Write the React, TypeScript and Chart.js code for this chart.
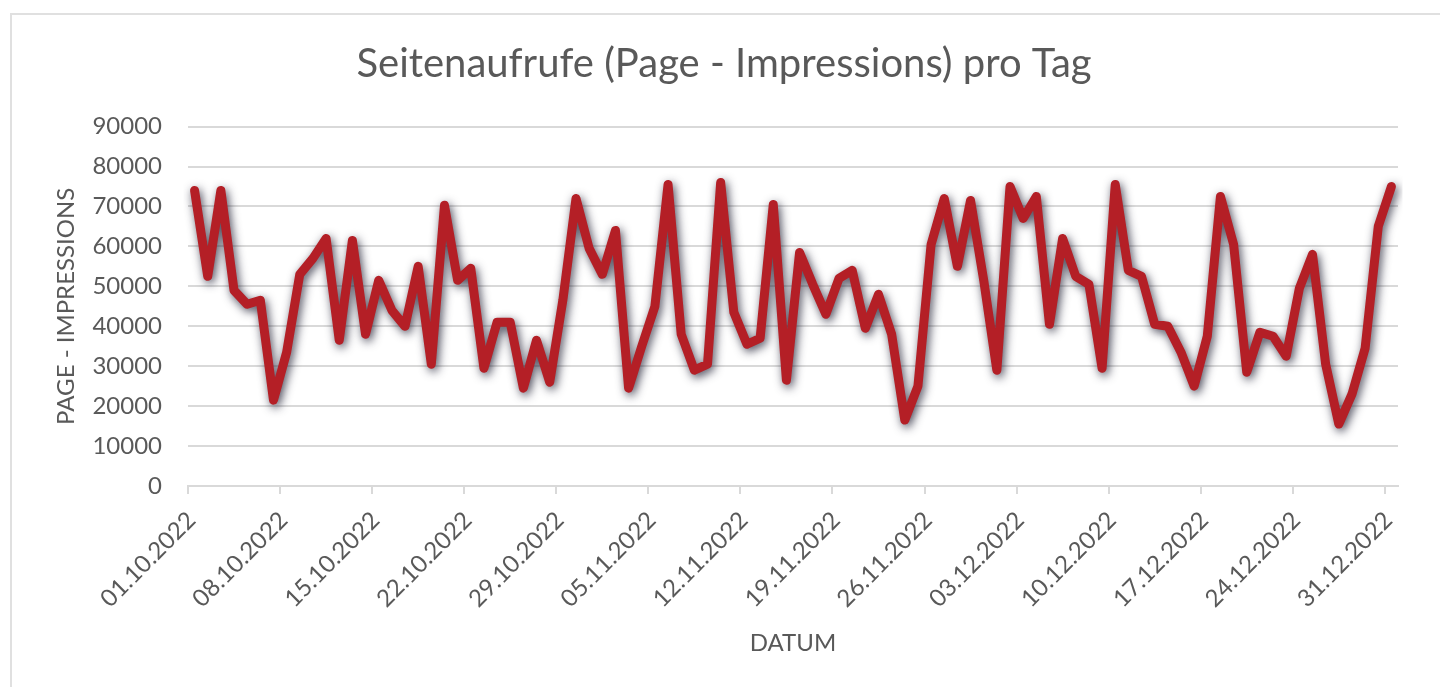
import React, { useEffect, useRef } from "react";
import { Chart, registerables } from "chart.js";

Chart.register(...registerables);

const dateLabels: string[] = [
  "01.10.2022", "02.10.2022", "03.10.2022", "04.10.2022", "05.10.2022", "06.10.2022", "07.10.2022",
  "08.10.2022", "09.10.2022", "10.10.2022", "11.10.2022", "12.10.2022", "13.10.2022", "14.10.2022",
  "15.10.2022", "16.10.2022", "17.10.2022", "18.10.2022", "19.10.2022", "20.10.2022", "21.10.2022",
  "22.10.2022", "23.10.2022", "24.10.2022", "25.10.2022", "26.10.2022", "27.10.2022", "28.10.2022",
  "29.10.2022", "30.10.2022", "31.10.2022", "01.11.2022", "02.11.2022", "03.11.2022", "04.11.2022",
  "05.11.2022", "06.11.2022", "07.11.2022", "08.11.2022", "09.11.2022", "10.11.2022", "11.11.2022",
  "12.11.2022", "13.11.2022", "14.11.2022", "15.11.2022", "16.11.2022", "17.11.2022", "18.11.2022",
  "19.11.2022", "20.11.2022", "21.11.2022", "22.11.2022", "23.11.2022", "24.11.2022", "25.11.2022",
  "26.11.2022", "27.11.2022", "28.11.2022", "29.11.2022", "30.11.2022", "01.12.2022", "02.12.2022",
  "03.12.2022", "04.12.2022", "05.12.2022", "06.12.2022", "07.12.2022", "08.12.2022", "09.12.2022",
  "10.12.2022", "11.12.2022", "12.12.2022", "13.12.2022", "14.12.2022", "15.12.2022", "16.12.2022",
  "17.12.2022", "18.12.2022", "19.12.2022", "20.12.2022", "21.12.2022", "22.12.2022", "23.12.2022",
  "24.12.2022", "25.12.2022", "26.12.2022", "27.12.2022", "28.12.2022", "29.12.2022", "30.12.2022",
  "31.12.2022",
];

const pageImpressions: number[] = [
  74000, 52500, 74000, 49000, 45500, 46500, 21500, 33500, 53000, 57000,
  62000, 36500, 61500, 38000, 51500, 44000, 40000, 55000, 30500, 70300,
  51500, 54500, 29500, 41000, 41000, 24500, 36500, 26000, 46500, 72000,
  59500, 53000, 64000, 24500, 35000, 45000, 75500, 38000, 29000, 30500,
  76000, 43500, 35500, 37000, 70500, 26500, 58500, 50500, 43000, 52000,
  54000, 39500, 48000, 38000, 16500, 25000, 60500, 72000, 55000, 71500,
  51500, 29000, 75000, 67000, 72500, 40500, 62000, 52500, 50500, 29500,
  75500, 54000, 52500, 40500, 40000, 33500, 25000, 37500, 72500, 60500,
  28500, 38500, 37500, 32500, 49500, 58000, 30500, 15500, 23000, 34500,
  65000, 75000,
];

const chartTitle = "Seitenaufrufe (Page - Impressions) pro Tag";
const yAxisTitle = "PAGE - IMPRESSIONS";
const xAxisTitle = "DATUM";
const labelEvery = 7;

const FONT = "Lato, 'Open Sans', sans-serif";
const TEXT = "#595959";
const GRID = "#d9d9d9";

const shadowPlugin = {
  id: "lineShadow",
  beforeDatasetsDraw(chart: any) {
    const ctx = chart.ctx;
    ctx.save();
    ctx.shadowColor = "rgba(30,30,50,0.8)";
    ctx.shadowBlur = 10;
    ctx.shadowOffsetX = 2;
    ctx.shadowOffsetY = 3;
  },
  afterDatasetsDraw(chart: any) {
    chart.ctx.restore();
  },
};

export default function App() {
  const canvasRef = useRef<HTMLCanvasElement | null>(null);

  useEffect(() => {
    if (!canvasRef.current) return;
    const chart = new Chart(canvasRef.current, {
      type: "line",
      data: {
        labels: dateLabels,
        datasets: [
          {
            label: yAxisTitle,
            data: pageImpressions,
            borderColor: "#B41F26",
            borderWidth: 9,
            borderJoinStyle: "round",
            borderCapStyle: "round",
            pointRadius: 0,
            tension: 0,
            fill: false,
          },
        ],
      },
      plugins: [shadowPlugin],
      options: {
        animation: false,
        responsive: false,
        devicePixelRatio: 1,
        layout: { padding: { left: 50, right: 42, top: 0, bottom: 0 } },
        plugins: {
          legend: { display: false },
          tooltip: { enabled: false },
          title: {
            display: true,
            text: chartTitle,
            color: TEXT,
            font: { family: FONT, size: 40, weight: "normal" },
            padding: { top: 40, bottom: 38.6 },
          },
        },
        scales: {
          x: {
            type: "category",
            offset: true,
            afterFit: (scale: any) => {
              scale.height = 201;
            },
            grid: {
              offset: true,
              drawOnChartArea: false,
              drawTicks: true,
              tickLength: 8,
              lineWidth: 2,
              tickColor: (ctx: any) => (ctx.index % labelEvery === 0 ? GRID : "rgba(0,0,0,0)"),
              color: "rgba(0,0,0,0)",
            },
            border: { display: true, color: GRID, width: 2 },
            ticks: {
              autoSkip: false,
              minRotation: 45,
              maxRotation: 45,
              labelOffset: -3,
              padding: 12,
              color: TEXT,
              font: { family: FONT, size: 24 },
              callback: (_v: any, i: number) => (i % labelEvery === 0 ? dateLabels[i] : ""),
            },
            title: {
              display: true,
              text: xAxisTitle,
              color: TEXT,
              font: { family: FONT, size: 24 },
              padding: { top: 4, bottom: 29 },
            },
          },
          y: {
            min: 0,
            max: 90000,
            afterFit: (scale: any) => {
              scale.width = 138;
            },
            ticks: {
              stepSize: 10000,
              padding: 26,
              color: TEXT,
              font: { family: FONT, size: 24 },
              callback: (v: any) => String(v),
            },
            grid: { color: GRID, lineWidth: 2, drawTicks: false },
            border: { display: false },
            title: {
              display: true,
              text: yAxisTitle,
              color: TEXT,
              font: { family: FONT, size: 24 },
              padding: { top: 2, bottom: 0 },
            },
          },
        },
      },
    } as any);
    return () => chart.destroy();
  }, []);

  return (
    <div
      style={{
        position: "fixed",
        left: 0,
        top: 0,
        width: 1440,
        height: 687,
        overflow: "hidden",
        background: "#fff",
      }}
    >
      <div
        style={{
          position: "absolute",
          left: 10,
          top: 13,
          width: 1460,
          height: 720,
          border: "2px solid #e0e0e0",
          boxSizing: "border-box",
        }}
      />
      <canvas
        ref={canvasRef}
        width={1440}
        height={687}
        style={{ position: "absolute", left: 0, top: 0, width: 1440, height: 687 }}
      />
    </div>
  );
}
